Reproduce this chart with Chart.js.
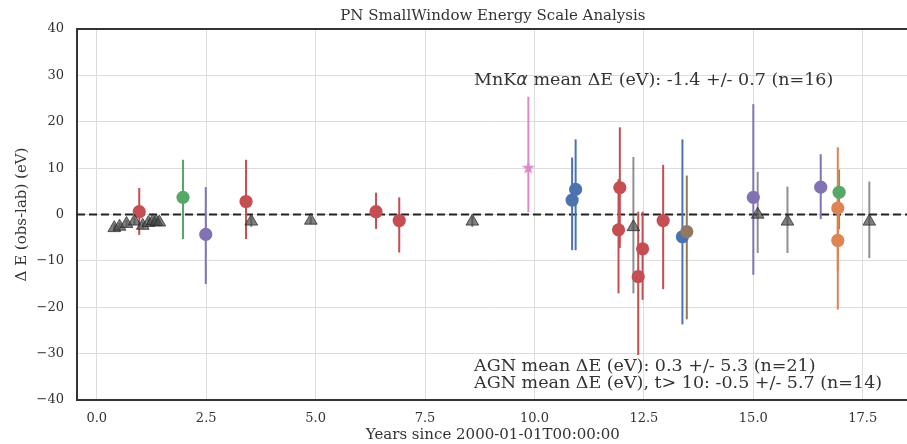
<!DOCTYPE html>
<html><head><meta charset="utf-8">
<script src="https://cdn.jsdelivr.net/npm/chart.js@4/dist/chart.umd.min.js"></script>
<style>
html,body{margin:0;padding:0;overflow:hidden;background:#fff;width:907px;height:444px}
#wrap{position:relative;width:917px;height:444px}
</style></head>
<body><div id="wrap"><canvas id="c" width="917" height="444"></canvas></div>
<script>
// ---- tick labels ----
const xTickValues = [0, 2.5, 5, 7.5, 10, 12.5, 15, 17.5];
const yTickValues = [-40, -30, -20, -10, 0, 10, 20, 30, 40];

// ---- MnKα calibration points (triangles) ----
const mnkX       = [0.40, 0.52, 0.68, 0.86, 1.05, 1.18, 1.28, 1.36, 1.43, 3.53, 4.89, 8.58, 12.26, 15.10, 15.78, 17.65];
const mnkY       = [-2.9, -2.6, -2.0, -1.5, -2.4, -1.8, -1.4, -1.6, -1.7, -1.5, -1.3, -1.5, -2.7, 0.0, -1.5, -1.5];
const mnkErrUp   = [0.8, 0.8, 0.8, 0.8, 0.8, 0.8, 0.8, 0.8, 0.8, 1.2, 0.8, 1.2, 15.1, 9.2, 7.5, 8.6];
const mnkErrDown = [0.8, 0.8, 0.8, 0.8, 0.8, 0.8, 0.8, 0.8, 0.8, 1.2, 0.8, 1.2, 14.3, 8.3, 6.8, 7.9];

// ---- AGN points, one group per colour ----
const redX       = [0.97, 3.41, 6.38, 6.91, 11.92, 11.95, 12.37, 12.47, 12.94];
const redY       = [0.6, 2.8, 0.6, -1.3, -3.3, 5.8, -13.4, -7.4, -1.3];
const redErrUp   = [5.1, 9.0, 4.1, 5.0, 10.9, 13.0, 14.0, 8.0, 12.0];
const redErrDown = [5.0, 8.1, 3.7, 6.9, 13.7, 13.0, 16.9, 11.0, 14.8];

const greenX       = [1.97, 16.96];
const greenY       = [3.7, 4.8];
const greenErrUp   = [8.1, 4.9];
const greenErrDown = [9.0, 8.0];

const purpleX       = [2.49, 15.00, 16.54];
const purpleY       = [-4.3, 3.7, 5.9];
const purpleErrUp   = [10.2, 20.1, 7.1];
const purpleErrDown = [10.7, 16.7, 6.9];

const blueX       = [10.86, 10.94, 13.38];
const blueY       = [3.1, 5.4, -4.8];
const blueErrUp   = [9.2, 10.8, 21.0];
const blueErrDown = [10.8, 13.1, 18.9];

const brownX       = [13.48];
const brownY       = [-3.7];
const brownErrUp   = [12.1];
const brownErrDown = [18.9];

const orangeX       = [16.93, 16.93];
const orangeY       = [1.4, -5.6];
const orangeErrUp   = [13.1, 9.0];
const orangeErrDown = [13.5, 14.9];

const pinkX       = [9.86];
const pinkY       = [10.0];
const pinkErrUp   = [15.4];
const pinkErrDown = [9.5];

// ---- annotation texts ----
const mnkText  = ['MnK', '\u03B1', ' mean \u0394E (eV): -1.4 +/- 0.7 (n=16)'];
const agnText1 = 'AGN mean \u0394E (eV): 0.3 +/- 5.3 (n=21)';
const agnText2 = 'AGN mean \u0394E (eV), t> 10: -0.5 +/- 5.7 (n=14)';
const titleText = 'PN SmallWindow Energy Scale Analysis';
const xTitle = 'Years since 2000-01-01T00:00:00';
const yTitle = '\u0394 E (obs-lab) (eV)';

function makeStar(color, r) {
  const s = Math.ceil(2 * r + 2);
  const c = document.createElement('canvas'); c.width = s; c.height = s;
  const g = c.getContext('2d'); g.fillStyle = color; g.beginPath();
  for (let i = 0; i < 10; i++) {
    const a = -Math.PI / 2 + i * Math.PI / 5; const rr = (i % 2) ? r * 0.382 : r;
    g.lineTo(s / 2 + rr * Math.cos(a), s / 2 + rr * Math.sin(a));
  }
  g.closePath(); g.fill(); return c;
}

function pts(xs, ys) { return xs.map((x, i) => ({x: x, y: ys[i]})); }

function circleSet(xs, ys, up, down, color) {
  return { data: pts(xs, ys), errUp: up, errDown: down, barColor: color,
    pointStyle: 'circle', pointRadius: 6.6, pointHoverRadius: 6.6,
    backgroundColor: color, borderColor: color, borderWidth: 0, showLine: false };
}

const datasets = [
  { data: pts(mnkX, mnkY), errUp: mnkErrUp, errDown: mnkErrDown, barColor: 'rgba(70,70,70,0.6)',
    pointStyle: 'triangle', pointRadius: 7.3, pointHoverRadius: 7.3,
    backgroundColor: 'rgba(70,70,70,0.68)', borderColor: 'rgba(40,40,40,0.75)', borderWidth: 1, showLine: false },
  circleSet(orangeX, orangeY, orangeErrUp, orangeErrDown, '#DD8452'),
  circleSet(greenX, greenY, greenErrUp, greenErrDown, '#55A868'),
  circleSet(purpleX, purpleY, purpleErrUp, purpleErrDown, '#8172B3'),
  circleSet(brownX, brownY, brownErrUp, brownErrDown, '#937860'),
  circleSet(blueX, blueY, blueErrUp, blueErrDown, '#4C72B0'),
  circleSet(redX, redY, redErrUp, redErrDown, '#C44E52'),
  { data: pts(pinkX, pinkY), errUp: pinkErrUp, errDown: pinkErrDown, barColor: '#DA8BC3',
    pointStyle: makeStar('#DA8BC3', 7), pointRadius: 7, backgroundColor: '#DA8BC3', borderWidth: 0, showLine: false }
];

const SERIF = '"DejaVu Serif", serif';
const TXT = '#333333';

const decorPlugin = {
  id: 'decor',
  beforeDatasetsDraw(chart) {
    const {ctx, chartArea: a, scales: {x, y}} = chart;
    ctx.save();
    // zero line
    ctx.strokeStyle = '#222'; ctx.lineWidth = 2; ctx.setLineDash([8, 4]);
    const y0 = y.getPixelForValue(0);
    ctx.beginPath(); ctx.moveTo(a.left, y0); ctx.lineTo(a.right, y0); ctx.stroke();
    ctx.setLineDash([]);
    // error bars
    for (let d = chart.data.datasets.length - 1; d >= 0; d--) {
      const ds = chart.data.datasets[d];
      ctx.strokeStyle = ds.barColor; ctx.lineWidth = 2;
      ds.data.forEach((p, i) => {
        const px = x.getPixelForValue(p.x);
        ctx.beginPath();
        ctx.moveTo(px, y.getPixelForValue(p.y + ds.errUp[i]));
        ctx.lineTo(px, y.getPixelForValue(p.y - ds.errDown[i]));
        ctx.stroke();
      });
    }
    ctx.restore();
  },
  afterDraw(chart) {
    const {ctx, chartArea: a, scales: {x, y}} = chart;
    ctx.save();
    // top spine
    ctx.strokeStyle = '#333'; ctx.lineWidth = 2;
    ctx.beginPath(); ctx.moveTo(a.left - 1, a.top); ctx.lineTo(a.right, a.top); ctx.stroke();
    // title
    ctx.fillStyle = TXT; ctx.textAlign = 'center'; ctx.textBaseline = 'middle';
    ctx.font = '15px ' + SERIF;
    ctx.fillText(titleText, (a.left + a.right) / 2, 16);
    // annotations
    ctx.textAlign = 'left'; ctx.textBaseline = 'alphabetic';
    const tx = x.getPixelForValue(8.62);
    let cx = tx;
    const base1 = y.getPixelForValue(28.0);
    ctx.font = '17.5px ' + SERIF; ctx.fillText(mnkText[0], cx, base1); cx += ctx.measureText(mnkText[0]).width;
    ctx.font = 'oblique 17.5px "DejaVu Sans", sans-serif'; ctx.fillText(mnkText[1], cx, base1); cx += ctx.measureText(mnkText[1]).width;
    ctx.font = '17.5px ' + SERIF; ctx.fillText(mnkText[2], cx, base1);
    ctx.fillText(agnText1, tx, y.getPixelForValue(-33.7));
    ctx.fillText(agnText2, tx, y.getPixelForValue(-37.4));
    ctx.restore();
  }
};

new Chart(document.getElementById('c'), {
  type: 'scatter',
  data: { datasets: datasets },
  plugins: [decorPlugin],
  options: {
    responsive: false, animation: false, devicePixelRatio: 1,
    layout: { padding: { top: 29, right: 0, left: 0, bottom: 0 } },
    plugins: { legend: { display: false }, tooltip: { enabled: false }, title: { display: false } },
    scales: {
      x: {
        type: 'linear', min: -0.452, max: 18.55,
        afterBuildTicks: s => { s.ticks = xTickValues.map(v => ({value: v})); },
        afterFit: s => { s.height = 44; },
        ticks: { callback: v => Number(v).toFixed(1), color: TXT, font: { family: 'DejaVu Serif', size: 13 }, padding: 11, maxRotation: 0, autoSkip: false },
        grid: { color: '#dcdcdc', lineWidth: 1, drawTicks: false },
        border: { color: '#333', width: 2 },
        title: { display: true, text: xTitle, color: TXT, font: { family: 'DejaVu Serif', size: 15 }, padding: { top: 0, bottom: 0 } }
      },
      y: {
        type: 'linear', min: -40, max: 40,
        afterBuildTicks: s => { s.ticks = yTickValues.map(v => ({value: v})); },
        afterFit: s => { s.width = 77; },
        ticks: { callback: v => (v < 0 ? '\u2212' + Math.abs(v) : String(v)), color: TXT, font: { family: 'DejaVu Serif', size: 13 }, padding: 13 },
        grid: { color: '#dcdcdc', lineWidth: 1, drawTicks: false },
        border: { color: '#333', width: 2 },
        title: { display: true, text: yTitle, color: TXT, font: { family: 'DejaVu Serif', size: 15 }, padding: { top: 13, bottom: 0 } }
      }
    }
  }
});
</script>
</body></html>
